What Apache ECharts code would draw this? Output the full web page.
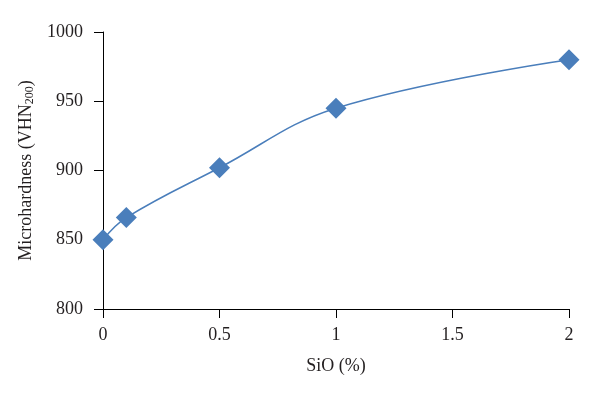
<!DOCTYPE html>
<html>
<head>
<meta charset="utf-8">
<script src="https://cdn.jsdelivr.net/npm/echarts@6/dist/echarts.min.js"></script>
<style>
  html, body { margin: 0; padding: 0; background: #fff; }
  #main { width: 600px; height: 399px; }
</style>
</head>
<body>
<div id="main"></div>
<script>
// 数据
var sioPercent = [0, 0.1, 0.5, 1, 2];
var hardness = [850, 866, 902, 945, 980];
var xTicks = [0, 0.5, 1, 1.5, 2];

var chart = echarts.init(document.getElementById("main"));

var points = sioPercent.map(function (x, i) {
    return [x, hardness[i]];
});

var font = '"Liberation Serif", "DejaVu Serif", serif';

chart.setOption({
    animation: false,
    grid: {
        left: 103,
        right: 31,
        top: 32,
        bottom: 90
    },
    xAxis: {
        type: 'value',
        min: 0,
        max: 2,
        interval: 0.5,
        name: 'SiO (%)',
        nameLocation: 'middle',
        nameGap: 48,
        nameTextStyle: { fontFamily: font, fontSize: 18, color: '#231f20' },
        axisLine: { lineStyle: { color: '#000', width: 1 } },
        axisTick: { length: 9, lineStyle: { color: '#000' } },
        axisLabel: {
            margin: 17,
            fontFamily: font,
            fontSize: 18,
            color: '#231f20',
            formatter: function (v) {
                return xTicks.indexOf(v) >= 0 ? String(v) : '';
            }
        },
        splitLine: { show: false }
    },
    yAxis: {
        type: 'value',
        min: 800,
        max: 1000,
        interval: 50,
        name: 'Microhardness (VHN{sub|200})',
        nameLocation: 'middle',
        nameGap: 59,
        nameTextStyle: {
            fontFamily: font,
            fontSize: 18,
            color: '#231f20',
            rich: {
                sub: { fontFamily: font, fontSize: 12, color: '#231f20', verticalAlign: 'bottom', padding: [7, 0, 0, 0] }
            }
        },
        axisLine: { show: true, lineStyle: { color: '#000', width: 1 } },
        axisTick: { show: true, length: 9, lineStyle: { color: '#000' } },
        axisLabel: {
            margin: 20,
            fontFamily: font,
            fontSize: 18,
            color: '#231f20',
            formatter: function (v) {
                return String(v);
            }
        },
        splitLine: { show: false }
    },
    series: [{
        type: 'line',
        data: points,
        smooth: 0.4,
        symbol: 'diamond',
        symbolSize: 21,
        lineStyle: { color: '#4a7ebb', width: 1.5 },
        itemStyle: { color: '#4a7ebb', borderWidth: 0 }
    }]
});
</script>
</body>
</html>
